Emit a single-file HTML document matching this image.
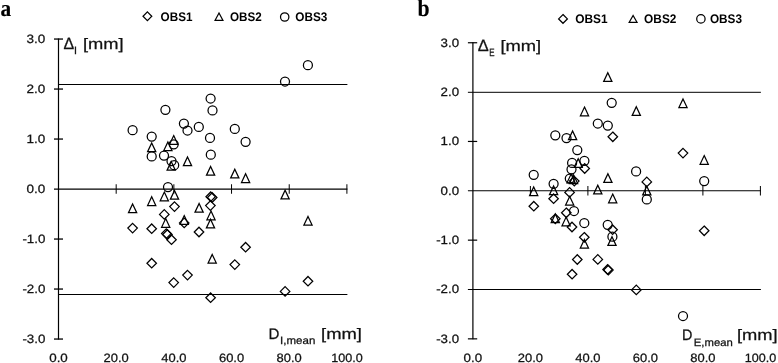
<!DOCTYPE html>
<html><head><meta charset="utf-8"><title>Bland-Altman plots</title>
<style>
html,body{margin:0;padding:0;background:#fff;}
svg{display:block;}
.m{fill:none;stroke:#000;stroke-width:1.25;stroke-linejoin:miter;}
text{white-space:pre;text-rendering:geometricPrecision;}
</style></head><body>
<svg width="778" height="363" viewBox="0 0 778 363">
<rect width="778" height="363" fill="#fff"/>
<line x1="58.50" y1="38.50" x2="58.50" y2="339.50" stroke="#000" stroke-width="1.2"/>
<line x1="54.00" y1="189.05" x2="347.40" y2="189.05" stroke="#000" stroke-width="1.3"/>
<line x1="54.00" y1="39.05" x2="63.00" y2="39.05" stroke="#000" stroke-width="1.3"/>
<line x1="54.00" y1="89.05" x2="63.00" y2="89.05" stroke="#000" stroke-width="1.3"/>
<line x1="54.00" y1="139.05" x2="63.00" y2="139.05" stroke="#000" stroke-width="1.3"/>
<line x1="54.00" y1="239.05" x2="63.00" y2="239.05" stroke="#000" stroke-width="1.3"/>
<line x1="54.00" y1="289.05" x2="63.00" y2="289.05" stroke="#000" stroke-width="1.3"/>
<line x1="54.00" y1="339.05" x2="63.00" y2="339.05" stroke="#000" stroke-width="1.3"/>
<line x1="116.18" y1="184.25" x2="116.18" y2="193.75" stroke="#000" stroke-width="1.0"/>
<line x1="173.86" y1="184.25" x2="173.86" y2="193.75" stroke="#000" stroke-width="1.0"/>
<line x1="231.54" y1="184.25" x2="231.54" y2="193.75" stroke="#000" stroke-width="1.0"/>
<line x1="289.22" y1="184.25" x2="289.22" y2="193.75" stroke="#000" stroke-width="1.0"/>
<line x1="346.90" y1="184.25" x2="346.90" y2="193.75" stroke="#000" stroke-width="1.0"/>
<line x1="58.50" y1="84.50" x2="347.40" y2="84.50" stroke="#000" stroke-width="1.0"/>
<line x1="58.50" y1="294.50" x2="347.40" y2="294.50" stroke="#000" stroke-width="1.0"/>
<text x="26.60" y="42.90" font-size="12.1" font-family='"Liberation Sans", sans-serif' font-weight="normal" fill="#111" stroke="#111" stroke-width="0.25" textLength="18.80" lengthAdjust="spacingAndGlyphs">3.0</text>
<text x="26.60" y="92.90" font-size="12.1" font-family='"Liberation Sans", sans-serif' font-weight="normal" fill="#111" stroke="#111" stroke-width="0.25" textLength="18.80" lengthAdjust="spacingAndGlyphs">2.0</text>
<text x="26.60" y="142.90" font-size="12.1" font-family='"Liberation Sans", sans-serif' font-weight="normal" fill="#111" stroke="#111" stroke-width="0.25" textLength="18.80" lengthAdjust="spacingAndGlyphs">1.0</text>
<text x="26.60" y="192.90" font-size="12.1" font-family='"Liberation Sans", sans-serif' font-weight="normal" fill="#111" stroke="#111" stroke-width="0.25" textLength="18.80" lengthAdjust="spacingAndGlyphs">0.0</text>
<text x="22.40" y="242.90" font-size="12.1" font-family='"Liberation Sans", sans-serif' font-weight="normal" fill="#111" stroke="#111" stroke-width="0.25" textLength="23.00" lengthAdjust="spacingAndGlyphs">-1.0</text>
<text x="22.40" y="292.90" font-size="12.1" font-family='"Liberation Sans", sans-serif' font-weight="normal" fill="#111" stroke="#111" stroke-width="0.25" textLength="23.00" lengthAdjust="spacingAndGlyphs">-2.0</text>
<text x="22.40" y="342.90" font-size="12.1" font-family='"Liberation Sans", sans-serif' font-weight="normal" fill="#111" stroke="#111" stroke-width="0.25" textLength="23.00" lengthAdjust="spacingAndGlyphs">-3.0</text>
<text x="49.20" y="361.50" font-size="12.1" font-family='"Liberation Sans", sans-serif' font-weight="normal" fill="#111" stroke="#111" stroke-width="0.25" textLength="18.60" lengthAdjust="spacingAndGlyphs">0.0</text>
<text x="103.58" y="361.50" font-size="12.1" font-family='"Liberation Sans", sans-serif' font-weight="normal" fill="#111" stroke="#111" stroke-width="0.25" textLength="25.20" lengthAdjust="spacingAndGlyphs">20.0</text>
<text x="161.26" y="361.50" font-size="12.1" font-family='"Liberation Sans", sans-serif' font-weight="normal" fill="#111" stroke="#111" stroke-width="0.25" textLength="25.20" lengthAdjust="spacingAndGlyphs">40.0</text>
<text x="218.94" y="361.50" font-size="12.1" font-family='"Liberation Sans", sans-serif' font-weight="normal" fill="#111" stroke="#111" stroke-width="0.25" textLength="25.20" lengthAdjust="spacingAndGlyphs">60.0</text>
<text x="276.62" y="361.50" font-size="12.1" font-family='"Liberation Sans", sans-serif' font-weight="normal" fill="#111" stroke="#111" stroke-width="0.25" textLength="25.20" lengthAdjust="spacingAndGlyphs">80.0</text>
<text x="331.15" y="361.50" font-size="12.1" font-family='"Liberation Sans", sans-serif' font-weight="normal" fill="#111" stroke="#111" stroke-width="0.25" textLength="31.51" lengthAdjust="spacingAndGlyphs">100.0</text>
<text x="63.40" y="48.80" font-size="16.4" font-family='"Liberation Sans", sans-serif' font-weight="normal" fill="#111" stroke="#111" stroke-width="0.25" textLength="10.70" lengthAdjust="spacingAndGlyphs">Δ</text>
<text x="73.95" y="54.0" font-size="10.6" font-family='"Liberation Sans", sans-serif' fill="#111" stroke="#111" stroke-width="0.3">I</text>
<text x="83.00" y="48.80" font-size="15.2" font-family='"Liberation Sans", sans-serif' font-weight="normal" fill="#111" stroke="#111" stroke-width="0.25" textLength="40.69" lengthAdjust="spacingAndGlyphs">[mm]</text>
<text x="268.40" y="339.40" font-size="15.2" font-family='"Liberation Sans", sans-serif' font-weight="normal" fill="#111" stroke="#111" stroke-width="0.25" textLength="10.90" lengthAdjust="spacingAndGlyphs">D</text>
<text x="280.10" y="344.30" font-size="10.6" font-family='"Liberation Sans", sans-serif' font-weight="normal" fill="#111" stroke="#111" stroke-width="0.25" textLength="35.20" lengthAdjust="spacingAndGlyphs">I,mean</text>
<text x="321.10" y="339.40" font-size="15.2" font-family='"Liberation Sans", sans-serif' font-weight="normal" fill="#111" stroke="#111" stroke-width="0.25" textLength="40.89" lengthAdjust="spacingAndGlyphs">[mm]</text>
<text x="0.60" y="15.90" font-size="23.5" font-family='"Liberation Serif", serif' font-weight="bold" fill="#000" stroke="#000" stroke-width="0.15" textLength="10.70" lengthAdjust="spacingAndGlyphs">a</text>
<path d="M147.40 11.83L151.77 16.20L147.40 20.57L143.03 16.20Z" class="m"/>
<text x="160.60" y="20.80" font-size="12.4" font-family='"Liberation Sans", sans-serif' font-weight="bold" fill="#000" stroke="#000" stroke-width="0" textLength="31.90" lengthAdjust="spacingAndGlyphs">OBS1</text>
<path d="M219.00 13.00L222.90 20.30L215.10 20.30Z" class="m"/>
<text x="230.00" y="20.80" font-size="12.4" font-family='"Liberation Sans", sans-serif' font-weight="bold" fill="#000" stroke="#000" stroke-width="0" textLength="31.80" lengthAdjust="spacingAndGlyphs">OBS2</text>
<circle cx="284.70" cy="17.00" r="4.19" class="m"/>
<text x="295.30" y="20.80" font-size="12.4" font-family='"Liberation Sans", sans-serif' font-weight="bold" fill="#000" stroke="#000" stroke-width="0" textLength="32.10" lengthAdjust="spacingAndGlyphs">OBS3</text>
<path d="M132.60 223.35L137.35 228.10L132.60 232.85L127.85 228.10Z" class="m"/>
<path d="M151.70 223.95L156.45 228.70L151.70 233.45L146.95 228.70Z" class="m"/>
<path d="M151.70 258.45L156.45 263.20L151.70 267.95L146.95 263.20Z" class="m"/>
<path d="M164.30 209.65L169.05 214.40L164.30 219.15L159.55 214.40Z" class="m"/>
<path d="M166.30 228.85L171.05 233.60L166.30 238.35L161.55 233.60Z" class="m"/>
<path d="M167.40 229.75L172.15 234.50L167.40 239.25L162.65 234.50Z" class="m"/>
<path d="M171.50 234.95L176.25 239.70L171.50 244.45L166.75 239.70Z" class="m"/>
<path d="M174.50 201.85L179.25 206.60L174.50 211.35L169.75 206.60Z" class="m"/>
<path d="M173.70 277.85L178.45 282.60L173.70 287.35L168.95 282.60Z" class="m"/>
<path d="M184.20 218.15L188.95 222.90L184.20 227.65L179.45 222.90Z" class="m"/>
<path d="M187.50 270.35L192.25 275.10L187.50 279.85L182.75 275.10Z" class="m"/>
<path d="M199.00 227.25L203.75 232.00L199.00 236.75L194.25 232.00Z" class="m"/>
<path d="M210.70 191.95L215.45 196.70L210.70 201.45L205.95 196.70Z" class="m"/>
<path d="M212.20 192.75L216.95 197.50L212.20 202.25L207.45 197.50Z" class="m"/>
<path d="M210.40 200.85L215.15 205.60L210.40 210.35L205.65 205.60Z" class="m"/>
<path d="M210.60 292.95L215.35 297.70L210.60 302.45L205.85 297.70Z" class="m"/>
<path d="M234.80 259.85L239.55 264.60L234.80 269.35L230.05 264.60Z" class="m"/>
<path d="M245.60 242.45L250.35 247.20L245.60 251.95L240.85 247.20Z" class="m"/>
<path d="M285.10 286.65L289.85 291.40L285.10 296.15L280.35 291.40Z" class="m"/>
<path d="M308.00 276.45L312.75 281.20L308.00 285.95L303.25 281.20Z" class="m"/>
<path d="M132.60 204.00L136.70 212.70L128.50 212.70Z" class="m"/>
<path d="M151.70 143.00L155.80 151.70L147.60 151.70Z" class="m"/>
<path d="M151.70 196.80L155.80 205.50L147.60 205.50Z" class="m"/>
<path d="M164.30 192.10L168.40 200.80L160.20 200.80Z" class="m"/>
<path d="M165.70 218.60L169.80 227.30L161.60 227.30Z" class="m"/>
<path d="M167.90 141.90L172.00 150.60L163.80 150.60Z" class="m"/>
<path d="M171.20 161.50L175.30 170.20L167.10 170.20Z" class="m"/>
<path d="M173.70 135.60L177.80 144.30L169.60 144.30Z" class="m"/>
<path d="M174.50 190.50L178.60 199.20L170.40 199.20Z" class="m"/>
<path d="M184.20 215.60L188.30 224.30L180.10 224.30Z" class="m"/>
<path d="M187.50 157.00L191.60 165.70L183.40 165.70Z" class="m"/>
<path d="M199.10 203.50L203.20 212.20L195.00 212.20Z" class="m"/>
<path d="M210.60 166.50L214.70 175.20L206.50 175.20Z" class="m"/>
<path d="M211.00 211.10L215.10 219.80L206.90 219.80Z" class="m"/>
<path d="M210.50 219.20L214.60 227.90L206.40 227.90Z" class="m"/>
<path d="M212.20 254.40L216.30 263.10L208.10 263.10Z" class="m"/>
<path d="M234.80 169.20L238.90 177.90L230.70 177.90Z" class="m"/>
<path d="M245.60 173.80L249.70 182.50L241.50 182.50Z" class="m"/>
<path d="M285.10 190.20L289.20 198.90L281.00 198.90Z" class="m"/>
<path d="M308.00 216.40L312.10 225.10L303.90 225.10Z" class="m"/>
<circle cx="132.60" cy="130.20" r="4.50" class="m"/>
<circle cx="151.70" cy="136.60" r="4.50" class="m"/>
<circle cx="151.70" cy="156.40" r="4.50" class="m"/>
<circle cx="164.00" cy="155.60" r="4.50" class="m"/>
<circle cx="165.40" cy="109.80" r="4.50" class="m"/>
<circle cx="168.00" cy="187.10" r="4.50" class="m"/>
<circle cx="171.50" cy="161.10" r="4.50" class="m"/>
<circle cx="173.70" cy="144.30" r="4.50" class="m"/>
<circle cx="174.20" cy="165.20" r="4.50" class="m"/>
<circle cx="183.90" cy="123.60" r="4.50" class="m"/>
<circle cx="187.50" cy="130.50" r="4.50" class="m"/>
<circle cx="198.80" cy="126.90" r="4.50" class="m"/>
<circle cx="210.60" cy="98.50" r="4.50" class="m"/>
<circle cx="212.50" cy="110.40" r="4.50" class="m"/>
<circle cx="210.00" cy="137.90" r="4.50" class="m"/>
<circle cx="210.80" cy="154.70" r="4.50" class="m"/>
<circle cx="234.80" cy="128.90" r="4.50" class="m"/>
<circle cx="245.60" cy="141.80" r="4.50" class="m"/>
<circle cx="285.00" cy="81.50" r="4.50" class="m"/>
<circle cx="307.90" cy="65.20" r="4.50" class="m"/>
<line x1="472.90" y1="42.25" x2="472.90" y2="339.35" stroke="#000" stroke-width="1.2"/>
<line x1="467.90" y1="190.75" x2="760.90" y2="190.75" stroke="#000" stroke-width="1.2"/>
<line x1="467.90" y1="42.75" x2="477.20" y2="42.75" stroke="#000" stroke-width="1.2"/>
<line x1="467.90" y1="141.45" x2="477.20" y2="141.45" stroke="#000" stroke-width="1.2"/>
<line x1="467.90" y1="240.15" x2="477.20" y2="240.15" stroke="#000" stroke-width="1.2"/>
<line x1="467.90" y1="338.85" x2="477.20" y2="338.85" stroke="#000" stroke-width="1.2"/>
<line x1="530.40" y1="186.00" x2="530.40" y2="195.50" stroke="#000" stroke-width="1.0"/>
<line x1="587.90" y1="186.00" x2="587.90" y2="195.50" stroke="#000" stroke-width="1.0"/>
<line x1="645.40" y1="186.00" x2="645.40" y2="195.50" stroke="#000" stroke-width="1.0"/>
<line x1="702.90" y1="186.00" x2="702.90" y2="195.50" stroke="#000" stroke-width="1.0"/>
<line x1="760.40" y1="186.00" x2="760.40" y2="195.50" stroke="#000" stroke-width="1.0"/>
<line x1="467.90" y1="92.30" x2="760.90" y2="92.30" stroke="#000" stroke-width="1.0"/>
<line x1="467.90" y1="289.50" x2="760.90" y2="289.50" stroke="#000" stroke-width="1.0"/>
<text x="440.60" y="46.65" font-size="12.1" font-family='"Liberation Sans", sans-serif' font-weight="normal" fill="#111" stroke="#111" stroke-width="0.25" textLength="18.50" lengthAdjust="spacingAndGlyphs">3.0</text>
<text x="440.60" y="96.20" font-size="12.1" font-family='"Liberation Sans", sans-serif' font-weight="normal" fill="#111" stroke="#111" stroke-width="0.25" textLength="18.50" lengthAdjust="spacingAndGlyphs">2.0</text>
<text x="440.60" y="145.35" font-size="12.1" font-family='"Liberation Sans", sans-serif' font-weight="normal" fill="#111" stroke="#111" stroke-width="0.25" textLength="18.50" lengthAdjust="spacingAndGlyphs">1.0</text>
<text x="440.60" y="194.70" font-size="12.1" font-family='"Liberation Sans", sans-serif' font-weight="normal" fill="#111" stroke="#111" stroke-width="0.25" textLength="18.50" lengthAdjust="spacingAndGlyphs">0.0</text>
<text x="436.20" y="244.05" font-size="12.1" font-family='"Liberation Sans", sans-serif' font-weight="normal" fill="#111" stroke="#111" stroke-width="0.25" textLength="22.90" lengthAdjust="spacingAndGlyphs">-1.0</text>
<text x="436.20" y="293.40" font-size="12.1" font-family='"Liberation Sans", sans-serif' font-weight="normal" fill="#111" stroke="#111" stroke-width="0.25" textLength="22.90" lengthAdjust="spacingAndGlyphs">-2.0</text>
<text x="436.20" y="342.75" font-size="12.1" font-family='"Liberation Sans", sans-serif' font-weight="normal" fill="#111" stroke="#111" stroke-width="0.25" textLength="22.90" lengthAdjust="spacingAndGlyphs">-3.0</text>
<text x="463.60" y="361.50" font-size="12.1" font-family='"Liberation Sans", sans-serif' font-weight="normal" fill="#111" stroke="#111" stroke-width="0.25" textLength="18.60" lengthAdjust="spacingAndGlyphs">0.0</text>
<text x="517.80" y="361.50" font-size="12.1" font-family='"Liberation Sans", sans-serif' font-weight="normal" fill="#111" stroke="#111" stroke-width="0.25" textLength="25.20" lengthAdjust="spacingAndGlyphs">20.0</text>
<text x="575.30" y="361.50" font-size="12.1" font-family='"Liberation Sans", sans-serif' font-weight="normal" fill="#111" stroke="#111" stroke-width="0.25" textLength="25.20" lengthAdjust="spacingAndGlyphs">40.0</text>
<text x="632.80" y="361.50" font-size="12.1" font-family='"Liberation Sans", sans-serif' font-weight="normal" fill="#111" stroke="#111" stroke-width="0.25" textLength="25.20" lengthAdjust="spacingAndGlyphs">60.0</text>
<text x="690.30" y="361.50" font-size="12.1" font-family='"Liberation Sans", sans-serif' font-weight="normal" fill="#111" stroke="#111" stroke-width="0.25" textLength="25.20" lengthAdjust="spacingAndGlyphs">80.0</text>
<text x="744.75" y="361.50" font-size="12.1" font-family='"Liberation Sans", sans-serif' font-weight="normal" fill="#111" stroke="#111" stroke-width="0.25" textLength="31.51" lengthAdjust="spacingAndGlyphs">100.0</text>
<text x="477.70" y="50.90" font-size="16.4" font-family='"Liberation Sans", sans-serif' font-weight="normal" fill="#111" stroke="#111" stroke-width="0.25" textLength="11.00" lengthAdjust="spacingAndGlyphs">Δ</text>
<text x="489.20" y="55.70" font-size="10.6" font-family='"Liberation Sans", sans-serif' font-weight="normal" fill="#111" stroke="#111" stroke-width="0.25" textLength="5.30" lengthAdjust="spacingAndGlyphs">E</text>
<text x="500.40" y="50.90" font-size="15.2" font-family='"Liberation Sans", sans-serif' font-weight="normal" fill="#111" stroke="#111" stroke-width="0.25" textLength="40.79" lengthAdjust="spacingAndGlyphs">[mm]</text>
<text x="682.10" y="339.80" font-size="15.2" font-family='"Liberation Sans", sans-serif' font-weight="normal" fill="#111" stroke="#111" stroke-width="0.25" textLength="10.40" lengthAdjust="spacingAndGlyphs">D</text>
<text x="693.80" y="345.50" font-size="10.6" font-family='"Liberation Sans", sans-serif' font-weight="normal" fill="#111" stroke="#111" stroke-width="0.25" textLength="39.00" lengthAdjust="spacingAndGlyphs">E,mean</text>
<text x="736.90" y="339.80" font-size="15.2" font-family='"Liberation Sans", sans-serif' font-weight="normal" fill="#111" stroke="#111" stroke-width="0.25" textLength="40.69" lengthAdjust="spacingAndGlyphs">[mm]</text>
<text x="417.50" y="15.90" font-size="24" font-family='"Liberation Serif", serif' font-weight="bold" fill="#000" stroke="#000" stroke-width="0.15" textLength="12.10" lengthAdjust="spacingAndGlyphs">b</text>
<path d="M563.00 14.53L567.37 18.90L563.00 23.27L558.63 18.90Z" class="m"/>
<text x="575.20" y="22.70" font-size="12.4" font-family='"Liberation Sans", sans-serif' font-weight="bold" fill="#000" stroke="#000" stroke-width="0" textLength="32.40" lengthAdjust="spacingAndGlyphs">OBS1</text>
<path d="M633.10 15.50L637.00 22.30L629.20 22.30Z" class="m"/>
<text x="644.10" y="22.70" font-size="12.4" font-family='"Liberation Sans", sans-serif' font-weight="bold" fill="#000" stroke="#000" stroke-width="0" textLength="32.30" lengthAdjust="spacingAndGlyphs">OBS2</text>
<circle cx="700.90" cy="18.90" r="4.19" class="m"/>
<text x="709.90" y="22.70" font-size="12.4" font-family='"Liberation Sans", sans-serif' font-weight="bold" fill="#000" stroke="#000" stroke-width="0" textLength="32.10" lengthAdjust="spacingAndGlyphs">OBS3</text>
<path d="M533.80 201.45L538.55 206.20L533.80 210.95L529.05 206.20Z" class="m"/>
<path d="M553.60 193.95L558.35 198.70L553.60 203.45L548.85 198.70Z" class="m"/>
<path d="M555.30 214.05L560.05 218.80L555.30 223.55L550.55 218.80Z" class="m"/>
<path d="M566.30 208.05L571.05 212.80L566.30 217.55L561.55 212.80Z" class="m"/>
<path d="M569.60 187.65L574.35 192.40L569.60 197.15L564.85 192.40Z" class="m"/>
<path d="M572.00 222.25L576.75 227.00L572.00 231.75L567.25 227.00Z" class="m"/>
<path d="M572.10 269.45L576.85 274.20L572.10 278.95L567.35 274.20Z" class="m"/>
<path d="M574.30 176.35L579.05 181.10L574.30 185.85L569.55 181.10Z" class="m"/>
<path d="M577.30 254.75L582.05 259.50L577.30 264.25L572.55 259.50Z" class="m"/>
<path d="M584.70 163.75L589.45 168.50L584.70 173.25L579.95 168.50Z" class="m"/>
<path d="M584.30 232.55L589.05 237.30L584.30 242.05L579.55 237.30Z" class="m"/>
<path d="M597.80 254.65L602.55 259.40L597.80 264.15L593.05 259.40Z" class="m"/>
<path d="M607.60 264.75L612.35 269.50L607.60 274.25L602.85 269.50Z" class="m"/>
<path d="M608.40 265.35L613.15 270.10L608.40 274.85L603.65 270.10Z" class="m"/>
<path d="M612.80 132.05L617.55 136.80L612.80 141.55L608.05 136.80Z" class="m"/>
<path d="M612.60 224.95L617.35 229.70L612.60 234.45L607.85 229.70Z" class="m"/>
<path d="M636.30 285.15L641.05 289.90L636.30 294.65L631.55 289.90Z" class="m"/>
<path d="M646.80 177.15L651.55 181.90L646.80 186.65L642.05 181.90Z" class="m"/>
<path d="M683.00 148.35L687.75 153.10L683.00 157.85L678.25 153.10Z" class="m"/>
<path d="M704.20 226.05L708.95 230.80L704.20 235.55L699.45 230.80Z" class="m"/>
<path d="M533.70 186.90L537.80 195.60L529.60 195.60Z" class="m"/>
<path d="M553.60 186.00L557.70 194.70L549.50 194.70Z" class="m"/>
<path d="M555.30 214.00L559.40 222.70L551.20 222.70Z" class="m"/>
<path d="M566.10 217.10L570.20 225.80L562.00 225.80Z" class="m"/>
<path d="M569.70 196.40L573.80 205.10L565.60 205.10Z" class="m"/>
<path d="M572.60 131.00L576.70 139.70L568.50 139.70Z" class="m"/>
<path d="M571.10 174.10L575.20 182.80L567.00 182.80Z" class="m"/>
<path d="M573.60 174.90L577.70 183.60L569.50 183.60Z" class="m"/>
<path d="M578.20 158.70L582.30 167.40L574.10 167.40Z" class="m"/>
<path d="M584.50 107.10L588.60 115.80L580.40 115.80Z" class="m"/>
<path d="M584.40 239.40L588.50 248.10L580.30 248.10Z" class="m"/>
<path d="M597.80 185.20L601.90 193.90L593.70 193.90Z" class="m"/>
<path d="M607.80 72.70L611.90 81.40L603.70 81.40Z" class="m"/>
<path d="M607.90 173.70L612.00 182.40L603.80 182.40Z" class="m"/>
<path d="M612.70 194.10L616.80 202.80L608.60 202.80Z" class="m"/>
<path d="M612.00 236.70L616.10 245.40L607.90 245.40Z" class="m"/>
<path d="M636.30 106.70L640.40 115.40L632.20 115.40Z" class="m"/>
<path d="M646.80 186.20L650.90 194.90L642.70 194.90Z" class="m"/>
<path d="M683.00 98.90L687.10 107.60L678.90 107.60Z" class="m"/>
<path d="M704.20 155.60L708.30 164.30L700.10 164.30Z" class="m"/>
<circle cx="533.70" cy="174.80" r="4.50" class="m"/>
<circle cx="553.60" cy="183.80" r="4.50" class="m"/>
<circle cx="555.30" cy="135.30" r="4.50" class="m"/>
<circle cx="566.50" cy="138.10" r="4.50" class="m"/>
<circle cx="569.80" cy="178.60" r="4.50" class="m"/>
<circle cx="571.50" cy="169.30" r="4.50" class="m"/>
<circle cx="572.10" cy="162.90" r="4.50" class="m"/>
<circle cx="574.00" cy="211.00" r="4.50" class="m"/>
<circle cx="577.30" cy="150.10" r="4.50" class="m"/>
<circle cx="584.40" cy="160.80" r="4.50" class="m"/>
<circle cx="584.30" cy="223.00" r="4.50" class="m"/>
<circle cx="597.80" cy="123.50" r="4.50" class="m"/>
<circle cx="607.80" cy="125.60" r="4.50" class="m"/>
<circle cx="607.70" cy="224.80" r="4.50" class="m"/>
<circle cx="611.70" cy="102.80" r="4.50" class="m"/>
<circle cx="612.40" cy="236.70" r="4.50" class="m"/>
<circle cx="636.10" cy="171.40" r="4.50" class="m"/>
<circle cx="646.80" cy="199.40" r="4.50" class="m"/>
<circle cx="683.00" cy="316.00" r="4.50" class="m"/>
<circle cx="704.20" cy="181.10" r="4.50" class="m"/>
</svg>
</body></html>
